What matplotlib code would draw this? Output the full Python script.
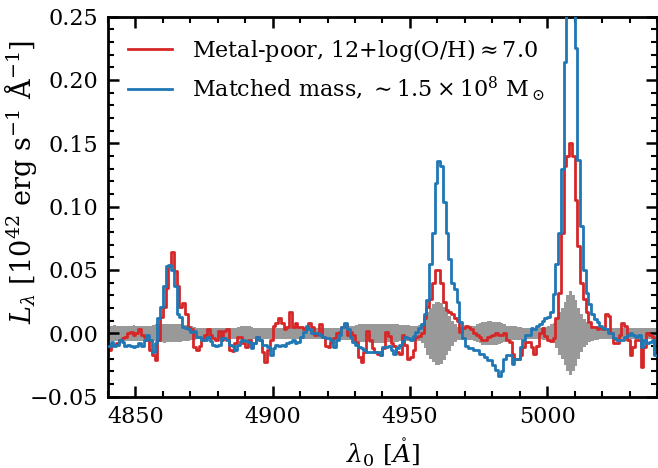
import numpy as np
import matplotlib
matplotlib.use("Agg")
import matplotlib.pyplot as plt
from matplotlib.ticker import MultipleLocator

plt.rcParams['font.family'] = 'DejaVu Serif'
plt.rcParams['mathtext.fontset'] = 'dejavuserif'

# rest-frame wavelength bin centres (1 A bins)
wave = np.arange(4840.5, 5040.0, 1.0)

# luminosity density, units of 1e-3 x 1e42 erg/s/A
metal_poor = [
    -13, -9, -9, -8, -5, -4, -3, 0, 1, -1, 0, 3, -1, -3, -5, -13, -17, -21, -5, 13,
    21, 36, 53, 64, 49, 37, 21, 24, 15, 5, 3, -11, -13, -10, -5, -1, 3, -1, -4, -5,
    2, -5, 2, 3, -13, -14, -8, -3, -3, -8, -11, -5, -11, -8, -3, -5, -15, -23, -13, -5,
    6, 8, 12, 8, 3, 5, 17, 5, 8, 5, 5, 3, 5, 8, 5, -1, 0, 7, -3, -10,
    -11, -7, -4, 0, 1, 5, 7, -1, 1, -1, -7, -19, -23, -15, 2, -5, -12, -15, -16, -17,
    -12, 1, -2, -8, -10, -15, -16, -1, -9, -20, -19, -13, -3, -2, 0, 12, 21, 27, 40, 50,
    50, 40, 25, 18, 17, 15, 12, 10, 1, 4, 6, 5, 3, 0, -1, -3, -5, -5, -3, -2,
    -1, 0, -1, -1, 0, -5, -7, -16, -20, -20, -17, -11, -7, -7, -11, -16, -10, 0, 4, -2,
    -5, -6, -4, 12, 32, 79, 132, 140, 150, 140, 105, 69, 40, 27, 17, 9, 5, 5, 3, 4,
    3, 15, 14, 0, -8, -8, -1, 8, 6, -5, -17, -11, -5, -5, -27, -11, 0, -1, -3, -16,
]

matched_mass = [
    -10, -7, -10, -9, -5, -7, -10, -9, -10, -11, -10, -8, -10, -5, -1, -5, -15, -8, 12, 21,
    37, 53, 54, 50, 37, 15, 13, 5, 4, 3, 1, 2, -3, -3, -5, -5, -3, -6, -9, -10,
    -9, -4, -4, -5, -9, -10, -13, -9, -6, -5, -6, -7, -12, -8, -3, -5, -9, -9, -11, -17,
    -12, -9, -10, -9, -10, -8, -7, -5, -8, -7, -3, 1, 6, 3, 0, 0, 0, -1, -3, -4,
    -4, -5, -11, -5, -1, 5, 8, 3, -3, -7, -9, -11, -12, -13, -15, -15, -15, -15, -15, -17,
    -11, -11, -10, -13, -16, -12, -9, -6, -3, -4, -5, -2, 1, 4, 7, 15, 26, 55, 79, 119,
    136, 132, 104, 79, 59, 40, 35, 25, 9, -4, -10, -12, -12, -13, -13, -16, -16, -19, -21, -21,
    -25, -29, -34, -30, -20, -17, -17, -24, -20, -20, -11, -5, -1, -1, 4, 3, 6, 7, 10, 12,
    13, 17, 31, 55, 79, 130, 214, 270, 290, 270, 225, 137, 85, 50, 32, 23, 15, 11, 9, 6,
    4, 3, 0, 0, -4, -5, -5, -5, -3, -1, 0, -1, -3, -1, -11, -5, -8, -7, -5, -17,
]

# 1-sigma noise (half width of grey band)
noise = [
    6, 6, 6.5, 6, 6, 5.5, 6, 6, 6, 6.5, 6, 6, 6, 5.5, 6, 6,
    6.5, 7, 7, 7, 7.5, 7, 7, 7, 7, 7, 7, 6.5, 6.5, 6, 5.5,
    5, 4.5, 4.5, 4.5, 4.5, 4.5, 4.5, 4.5, 4.5, 4.5, 4.5, 4.5, 4.5, 4.5, 4.5, 4.5, 5,
    5.5, 5.5, 5.5, 5.5, 5,
    4.5, 4.5, 4.5, 4.5, 4.5, 4.5, 4.5, 4.5, 4.5, 4.5, 4.5, 4.5, 4.5, 4.5, 4.5, 4.5,
    4.5, 4.5, 4.5, 4.5, 4.5, 4.5, 4.5, 4.5, 4.5, 4.5, 4.5, 4.5, 4.5, 4.5, 4.5, 4.5,
    5, 5.5, 5.5, 5.5,
    6, 6.5, 7, 7, 7, 7, 7.5, 7.5, 7.5, 7.5, 7.5, 7.5, 7, 7, 7, 7, 7, 6.5, 6.5, 6.5, 6.5, 6,
    6, 6, 6.5,
    8, 12, 17, 20, 23, 25, 25, 24, 21, 17, 14, 10, 7, 5,
    5, 5, 5, 5, 5.5, 6,
    7, 8, 9, 9, 9.5, 9.5, 9, 9, 8.5, 8, 7,
    6, 6, 5.5, 5.5, 5, 5,
    4.5, 4.5, 4.5, 4.5, 4.5, 4.5, 4.5, 5, 5,
    5.5, 7, 8, 12, 17, 20, 25, 30, 33, 30, 26, 20, 15, 11, 9, 7, 6, 5.5,
    5, 4.5, 4.5, 4.5, 4.5, 4.5, 4.5, 4.5, 4.5, 4.5, 4.5, 4.5, 4.5, 4.5, 4.5, 4.5,
    4.5, 4.5, 4.5, 4.5, 4.5, 4.5,
]

metal_poor = np.array(metal_poor) / 1000.
matched_mass = np.array(matched_mass) / 1000.
noise = np.array(noise) / 1000.

fig = plt.figure(figsize=(6.58, 4.68), dpi=100)
ax = fig.add_axes([0.1641, 0.1526, 0.8344, 0.812])

ax.fill_between(wave, -noise, noise, step='mid', color='0.6', lw=0, zorder=1)
ax.step(wave, metal_poor, where='mid', color='#d62728', lw=2, zorder=2,
        label='Metal-poor, 12+log(O/H)$\\approx$7.0')
ax.step(wave, matched_mass, where='mid', color='#1f77b4', lw=2, zorder=3,
        label=r'Matched mass, $\sim1.5\times10^{8}$ M$_\odot$')

ax.set_xlim(4840, 5040)
ax.set_ylim(-0.05, 0.25)
ax.xaxis.set_major_locator(MultipleLocator(50))
ax.xaxis.set_minor_locator(MultipleLocator(10))
ax.yaxis.set_major_locator(MultipleLocator(0.05))
ax.yaxis.set_minor_locator(MultipleLocator(0.01))
ax.tick_params(which='both', direction='in', top=True, right=True, labelsize=16, pad=7)
ax.tick_params(which='major', length=8, width=1.8)
ax.tick_params(which='minor', length=4, width=1.5)
for s in ax.spines.values():
    s.set_linewidth(2)

ax.set_xlabel(r'$\lambda_0$ [$\mathring{A}$]', fontsize=18, labelpad=6)
ax.set_ylabel(r'$L_\lambda$ [10$^{42}$ erg s$^{-1}$ $\rm\AA^{-1}$]', fontsize=19.5)
ax.yaxis.set_label_coords(-0.125, 0.565)

ax.legend(loc='upper left', frameon=False, fontsize=16, handlelength=2,
          handletextpad=0.9)

fig.savefig('out.png', dpi=100)
